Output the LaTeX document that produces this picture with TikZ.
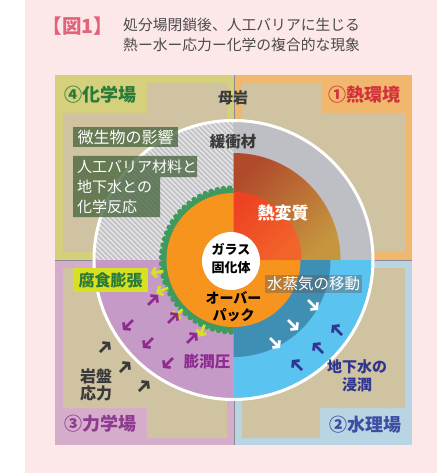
\documentclass[tikz,border=0pt]{standalone}
\usepackage{fontspec}
\setmainfont{Noto Sans CJK JP}
\usetikzlibrary{arrows.meta}

\definecolor{bgpink}{HTML}{FDE8E9}
\definecolor{oliveframe}{HTML}{D4D07B}
\definecolor{orangeframe}{HTML}{F1B76D}
\definecolor{mauveframe}{HTML}{D5ADCB}
\definecolor{blueframe}{HTML}{B9D5E3}
\definecolor{beige}{HTML}{CFC3A2}
\definecolor{buffergray}{HTML}{BEBFC4}
\definecolor{hatchbase}{HTML}{C0C0C5}
\definecolor{hatchline}{HTML}{E4E4E6}
\definecolor{overpack}{HTML}{F7941D}
\definecolor{heatred}{HTML}{EE4323}
\definecolor{heatredB}{HTML}{F2652A}
\definecolor{heatbrownA}{HTML}{B04A2B}
\definecolor{heatbrownB}{HTML}{C6963F}
\definecolor{swellpurple}{HTML}{C69AC7}
\definecolor{waterblue}{HTML}{5BC3EF}
\definecolor{waterdark}{HTML}{3F8EB3}
\definecolor{corrgreen}{HTML}{3F9A5E}
\definecolor{chemgreen}{HTML}{2A7A3B}
\definecolor{heattext}{HTML}{D2303D}
\definecolor{mechtext}{HTML}{8E3A90}
\definecolor{hydrotext}{HTML}{3B4EA2}
\definecolor{navyarrow}{HTML}{2F3591}
\definecolor{arrowpurple}{HTML}{8E2A90}
\definecolor{yellowgreen}{HTML}{D8E022}
\definecolor{darktext}{HTML}{3A3A3A}
\definecolor{titlered}{HTML}{E2627A}
\definecolor{titlegray}{HTML}{4A4A4A}
\definecolor{chembox}{HTML}{49663F}
\definecolor{divider}{HTML}{8A8A96}

\newcommand\jfs[2]{\fontsize{#1}{#2}\selectfont}

\begin{document}
\begin{tikzpicture}[x=1pt,y=-1pt,
  lbl/.style={inner sep=0pt},
  field/.style={lbl, font=\jfs{18}{18}\bfseries},
  arr/.style={line width=2.8pt, -{Straight Barb[length=4pt,width=10pt]}}
]
\useasboundingbox (0,0) rectangle (442,473);
\fill[bgpink] (25,0) rectangle (437,473);

% four field frames with beige interiors
\fill[oliveframe] (55,75) rectangle (234,260);
\fill[beige] (63,113) -- (147,113) -- (147,83) -- (227,83) -- (227,252) -- (63,252) -- cycle;
\fill[orangeframe] (234,75) rectangle (412,260);
\fill[beige] (242,83) -- (322,83) -- (322,113) -- (405,113) -- (405,252) -- (242,252) -- cycle;
\fill[mauveframe] (55,260) rectangle (234,445);
\fill[beige] (63,268) -- (227,268) -- (227,438) -- (147,438) -- (147,408) -- (63,408) -- cycle;
\fill[blueframe] (234,260) rectangle (412,445);
\fill[beige] (242,268) -- (405,268) -- (405,408) -- (320,408) -- (320,438) -- (242,438) -- cycle;
\draw[divider, line width=0.8pt] (234,75) -- (234,445);
\draw[divider, line width=0.8pt] (55,260) -- (412,260);

\coordinate (c) at (233.5,260);

% buffer ring, one fill per quadrant
\begin{scope}
  \clip (c) -- ++(180:138) arc[start angle=180,end angle=270,radius=138] -- cycle;
  \fill[hatchbase] (90,115) rectangle (240,265);
  \foreach \t in {-170,-165,...,170}
    \draw[hatchline, line width=1.6pt] (\t+95,110) -- (\t+255,270);
\end{scope}
\fill[buffergray] (c) -- ++(270:138) arc[start angle=270,end angle=360,radius=138] -- cycle;
\fill[waterblue] (c) -- ++(0:138) arc[start angle=0,end angle=90,radius=138] -- cycle;
\fill[swellpurple] (c) -- ++(90:138) arc[start angle=90,end angle=180,radius=138] -- cycle;
\draw[white, line width=3pt] (c) circle[radius=139.5];

% thermally altered zone and water-saturated zone
\shade[top color=heatbrownA, bottom color=heatbrownB, shading angle=45]
  (c) -- ++(270:107) arc[start angle=270,end angle=360,radius=107] -- cycle;
\fill[waterdark] (c) -- ++(0:97) arc[start angle=0,end angle=90,radius=97] -- cycle;

% corrosion layer on the left half
\fill[corrgreen] (c) -- ++(90:72) arc[start angle=90,end angle=270,radius=72] -- cycle;
\foreach \a in {92,97,...,268}
  \fill[corrgreen] (c) ++(\a:72) circle[radius=2.8];

% overpack and glass body
\fill[overpack] (c) circle[radius=67];
\shade[top color=heatred, bottom color=heatredB, shading angle=45]
  (c) -- ++(270:68) arc[start angle=270,end angle=360,radius=68] -- cycle;
\fill[white] (231,261) circle[radius=29];

% title
\node[lbl, text=titlered, font=\jfs{19.5}{19.5}\bfseries] (figno) at (78,26) {【図1】};
\node[lbl, anchor=west, align=left, text=titlegray, font=\jfs{14.8}{20}] (title) at (123,35)
  {処分場閉鎖後、人工バリアに生じる\\熱ー水ー応力ー化学の複合的な現象};

% field names
\node[field, text=chemgreen] (chemfield) at (100,95) {④化学場};
\node[field, text=heattext] (heatfield) at (364.5,95) {①熱環境};
\node[field, text=mechtext] (mechfield) at (100.5,424) {③力学場};
\node[field, text=hydrotext] (hydrofield) at (365.5,425) {②水理場};

% component labels
\node[lbl, text=darktext, font=\jfs{15}{15}\bfseries] (rock) at (233,98) {母岩};
\node[lbl, text=darktext, font=\jfs{15.5}{15.5}\bfseries] (buffer) at (233,142) {緩衝材};
\node[lbl, text=white, font=\jfs{17}{17}\bfseries] (alter) at (283,213) {熱変質};
\node[lbl, align=center, text=black, font=\jfs{13}{18}\bfseries] (glass) at (231,259) {ガラス\\固化体};
\node[lbl, align=center, text=black, font=\jfs{14}{17}\bfseries] (opk) at (233.5,307) {オーバー\\パック};

% chemical field boxes
\fill[chembox, fill opacity=0.78] (73,127) rectangle (178,147);
\node[lbl, text=white, font=\jfs{16}{16}] (microbe) at (125.5,137) {微生物の影響};
\fill[chembox, fill opacity=0.78] (73,156) -- (197,156) -- (197,177) -- (160,177) -- (160,217) -- (73,217) -- cycle;
\node[lbl, anchor=west, align=left, text=white, font=\jfs{15}{20}] (chemreact) at (77,187)
  {人工バリア材料と\\地下水との\\化学反応};

% vapour box
\fill[black!65, fill opacity=0.4] (265,275) rectangle (362,293);
\node[lbl, text=white, font=\jfs{15.5}{15.5}] (vapour) at (313.5,284) {水蒸気の移動};

% mechanical field labels
\fill[yellowgreen] (73,268) rectangle (148,292);
\node[lbl, text=chemgreen, font=\jfs{16}{16}\bfseries] (corr) at (110.5,280) {腐食膨張};
\node[lbl, text=arrowpurple, font=\jfs{15.5}{15.5}\bfseries] (swell) at (207,362) {膨潤圧};
\node[lbl, align=center, text=darktext, font=\jfs{16}{17}\bfseries] (stress) at (96,385) {岩盤\\応力};
\node[lbl, align=center, text=navyarrow, font=\jfs{15}{18}\bfseries] (inflow) at (357,376) {地下水の\\浸潤};

% corrosion expansion arrows (radial, outward)
\foreach \a in {171,157,136,114}
  \draw[arr, yellowgreen] (c) ++(\a:71) -- ++(\a:13);
% swelling pressure arrows
\foreach \x/\y in {153/300, 173/318, 192/338}
  \draw[arr, arrowpurple] (\x-5,\y+5) -- (\x+5,\y-5);
\foreach \x/\y in {128/325, 148/343, 168/363}
  \draw[arr, arrowpurple] (\x+5,\y-5) -- (\x-5,\y+5);
% rock stress arrows
\foreach \x/\y in {105/347, 125/367, 144/386}
  \draw[arr, darktext] (\x-5,\y+5) -- (\x+5,\y-5);
% vapour migration arrows
\foreach \x/\y in {313/305, 293/325, 275/343}
  \draw[arr, white] (\x-5,\y-5) -- (\x+5,\y+5);
% groundwater inflow arrows
\foreach \x/\y in {337/330, 318/348, 297/365}
  \draw[arr, navyarrow] (\x+5,\y+5) -- (\x-5,\y-5);
\end{tikzpicture}
\end{document}
